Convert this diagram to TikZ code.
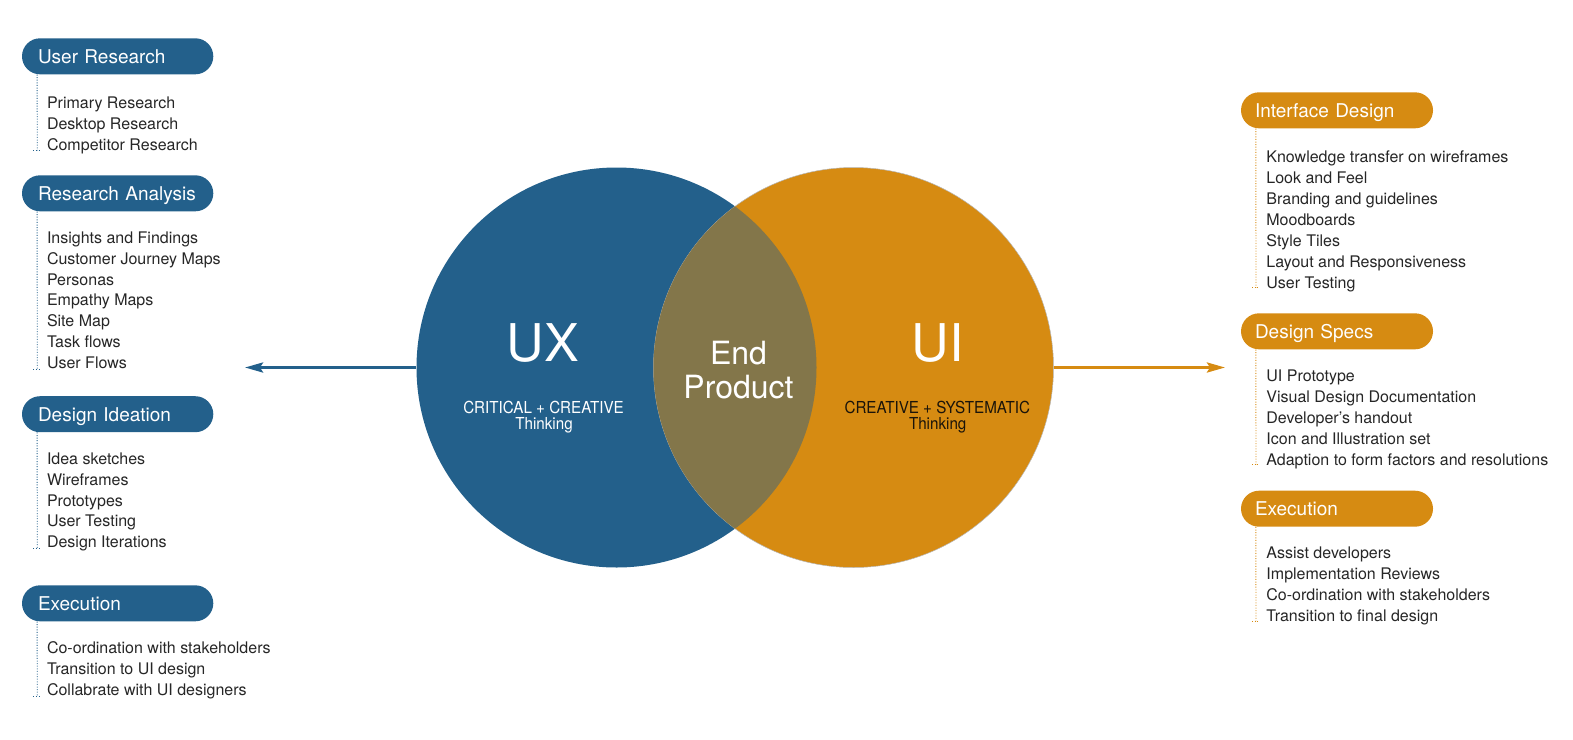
\documentclass[tikz,border=0pt]{standalone}
\usepackage{fontspec}
\setmainfont{TeX Gyre Heros}
\usepackage{graphicx}
\usetikzlibrary{arrows.meta}
\definecolor{uxblue}{RGB}{35,96,139}
\definecolor{uiorange}{RGB}{214,139,18}
\definecolor{lenscol}{RGB}{131,118,74}
\definecolor{itemgray}{RGB}{38,38,38}
\definecolor{darktext}{RGB}{26,20,10}
\begin{document}
\begin{tikzpicture}[x=1pt,y=-1pt,
  pillL/.style={fill=uxblue, rounded corners=18pt, minimum width=191.3pt, minimum height=36pt,
    inner xsep=16pt, inner ysep=0pt, text width=159.3pt, align=left, text height=16pt, text depth=2pt,
    font=\fontsize{19}{22}\selectfont, text=white},
  pillR/.style={fill=uiorange, rounded corners=18pt, minimum width=192pt, minimum height=36pt,
    inner xsep=14pt, inner ysep=0pt, text width=164pt, align=left, text height=16pt, text depth=2pt,
    font=\fontsize{19}{22}\selectfont, text=white},
  item/.style={anchor=base west, inner sep=0pt, font=\fontsize{16}{20}\selectfont, text=itemgray},
  dotsL/.style={uxblue, line width=0.9pt, dash pattern=on 1pt off 1.6pt},
  dotsR/.style={uiorange, line width=0.9pt, dash pattern=on 1pt off 1.6pt},
  bigc/.style={circle, minimum size=400pt, inner sep=0pt},
  arr/.style={line width=3pt, -{Stealth[length=18pt,width=10pt,inset=3pt]}},
  ctext/.style={anchor=base, inner sep=0pt}
]
\useasboundingbox (0,0) rectangle (1573,739);

% circles
\node[bigc, fill=uxblue] (uxc) at (616.5,367.5) {};
\node[bigc, fill=uiorange, draw=black!28, line width=0.5pt] (uic) at (853.5,367.5) {};
\begin{scope}
  \clip (616.5,367.5) circle[radius=200];
  \fill[lenscol] (853.5,367.5) circle[radius=200];
\end{scope}

% circle texts
\node[ctext, font=\fontsize{52}{52}\selectfont, text=white] (ux) at (543,361.7) {UX};
\node[ctext, font=\fontsize{52}{52}\selectfont, text=white] (ui) at (937.7,361.7) {UI};
\node[ctext, font=\fontsize{32}{34}\selectfont, text=white] (endt) at (738.5,364.3) {End};
\node[ctext, font=\fontsize{32}{34}\selectfont, text=white] (prod) at (738.5,398.3) {Product};
\node[ctext, font=\fontsize{16.5}{16}\selectfont, text=white] (uxsub) at (543.5,413.3) {\scalebox{0.92}[1]{CRITICAL + CREATIVE}};
\node[ctext, font=\fontsize{16.5}{16}\selectfont, text=white] (uxth) at (544,429) {\scalebox{0.92}[1]{Thinking}};
\node[ctext, font=\fontsize{16.5}{16}\selectfont, text=darktext] (uisub) at (937.3,413.3) {\scalebox{0.92}[1]{CREATIVE + SYSTEMATIC}};
\node[ctext, font=\fontsize{16.5}{16}\selectfont, text=darktext] (uith) at (937.7,429) {\scalebox{0.92}[1]{Thinking}};

% arrows
\coordinate (lt) at (245,367.5);
\coordinate (rt) at (1225,367.5);
\draw[arr, uxblue] (uxc.west) -- (lt);
\draw[arr, uiorange] (uic.east) -- (rt);

% left pills
\node[pillL] (ur) at (117.65,56.3) {User Research};
\node[pillL] (ra) at (117.65,193.3) {Research Analysis};
\node[pillL] (di) at (117.65,414.2) {Design Ideation};
\node[pillL] (exl) at (117.65,603.3) {Execution};

% right pills
\node[pillR] (idp) at (1337,110.3) {Interface Design};
\node[pillR] (ds) at (1337,331.3) {Design Specs};
\node[pillR] (exr) at (1337,508.7) {Execution};

% left items
\foreach \t [count=\i] in {Primary Research, Desktop Research, Competitor Research}
  \node[item] (ur-\i) at (46.8,{87.3+21*\i}) {\t};
\foreach \t [count=\i] in {Insights and Findings, Customer Journey Maps, Personas, Empathy Maps, Site Map, Task flows, User Flows}
  \node[item] (ra-\i) at (46.8,{222.45+20.85*\i}) {\t};
\foreach \t [count=\i] in {Idea sketches, Wireframes, Prototypes, User Testing, Design Iterations}
  \node[item] (di-\i) at (46.8,{443.45+20.85*\i}) {\t};
\foreach \t [count=\i] in {Co-ordination with stakeholders, Transition to UI design, Collabrate with UI designers}
  \node[item] (exl-\i) at (46.8,{632.45+20.85*\i}) {\t};

% right items
\foreach \t [count=\i] in {Knowledge transfer on wireframes, Look and Feel, Branding and guidelines, Moodboards, Style Tiles, Layout and Responsiveness, User Testing}
  \node[item] (idp-\i) at (1266.2,{141.3+21*\i}) {\t};
\foreach \t [count=\i] in {UI Prototype, Visual Design Documentation, Developer’s handout, Icon and Illustration set, Adaption to form factors and resolutions}
  \node[item] (ds-\i) at (1266.2,{360.7+21*\i}) {\t};
\foreach \t [count=\i] in {Assist developers, Implementation Reviews, Co-ordination with stakeholders, Transition to final design}
  \node[item] (exr-\i) at (1266.2,{537.3+21*\i}) {\t};

% dotted connectors
\coordinate (urE) at (37.3,150.3);
\coordinate (raE) at (37.3,369.5);
\coordinate (diE) at (37.3,548.3);
\coordinate (exlE) at (37.3,696);
\coordinate (idpE) at (1256,287.5);
\coordinate (dsE) at (1256,464.5);
\coordinate (exrE) at (1256,621);
\foreach \p in {ur,ra,di,exl}{
  \draw[dotsL] ([xshift=15.3pt]\p.south west) -- (\p E);
  \draw[dotsL] ([xshift=-4pt]\p E) -- ([xshift=3.5pt]\p E);
}
\foreach \p in {idp,ds,exr}{
  \draw[dotsR] ([xshift=15pt]\p.south west) -- (\p E);
  \draw[dotsR] ([xshift=-4pt]\p E) -- ([xshift=3.5pt]\p E);
}
\end{tikzpicture}
\end{document}
